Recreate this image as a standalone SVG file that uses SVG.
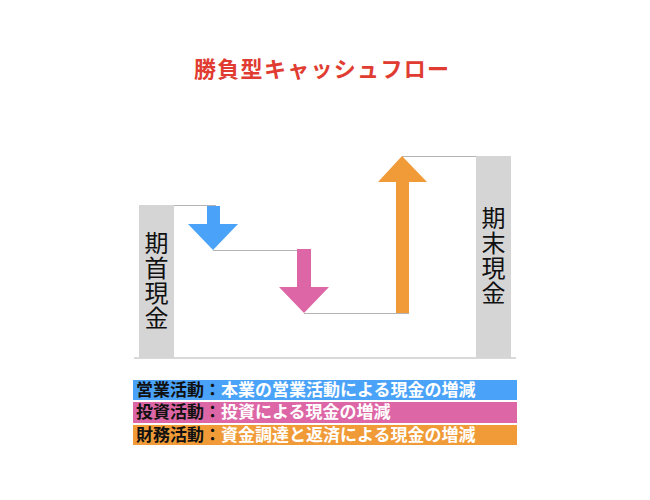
<svg xmlns="http://www.w3.org/2000/svg" width="650" height="500" viewBox="0 0 650 500">
<style>
.bar{fill:#d6d5d6}
.ln{stroke:#b3b3b3;stroke-width:1;fill:none}
.vt{font-family:"Noto Sans CJK JP","Noto Sans CJK SC",sans-serif;font-size:24px;fill:#111;writing-mode:vertical-rl;letter-spacing:1px}
.lg{font-family:"Liberation Sans","Noto Sans CJK JP","Noto Sans CJK SC",sans-serif;font-size:17px;font-weight:bold}
.k{fill:#111}
.w{fill:#fff}
</style>
<rect width="650" height="500" fill="#fff"/>
<text x="194" y="77" textLength="255" lengthAdjust="spacing" font-family="'Noto Sans CJK JP','Noto Sans CJK SC',sans-serif" font-size="22" font-weight="bold" fill="#e03c31">勝負型キャッシュフロー</text>
<g id="connectors">
<line class="ln" x1="134" y1="358" x2="516" y2="358"/>
<line class="ln" x1="139" y1="205.5" x2="216" y2="205.5"/>
<line class="ln" x1="213" y1="250.5" x2="311" y2="250.5"/>
<line class="ln" x1="304" y1="313.5" x2="409" y2="313.5"/>
<line class="ln" x1="402" y1="156.5" x2="508" y2="156.5"/>
</g>
<g id="start-cash">
<rect class="bar" x="139" y="205" width="35" height="153"/>
<text class="vt" x="156.5" y="231">期首現金</text>
</g>
<g id="end-cash">
<rect class="bar" x="476" y="156" width="35" height="202"/>
<text class="vt" x="493.5" y="206">期末現金</text>
</g>
<g id="operating-arrow">
<polygon fill="#4aa3f8" points="207,206 220,206 220,224 238,224 213,250 188,224 207,224"/>
</g>
<g id="investing-arrow">
<polygon fill="#dd67a6" points="297,249 311,249 311,287 329,287 304,313 279,287 297,287"/>
</g>
<g id="financing-arrow">
<polygon fill="#f09b37" points="396,313 409,313 409,182 427,182 402,156 378,182 396,182"/>
</g>
<g id="legend-operating">
<rect x="133" y="380" width="384" height="20" fill="#4aa3f8"/>
<text class="lg" x="136" y="396"><tspan class="k">営業活動：</tspan><tspan class="w">本業の営業活動による現金の増減</tspan></text>
</g>
<g id="legend-investing">
<rect x="133" y="402" width="384" height="21" fill="#dd67a6"/>
<text class="lg" x="136" y="418"><tspan class="k">投資活動：</tspan><tspan class="w">投資による現金の増減</tspan></text>
</g>
<g id="legend-financing">
<rect x="133" y="425" width="384" height="20" fill="#f09b37"/>
<text class="lg" x="136" y="441"><tspan class="k">財務活動：</tspan><tspan class="w">資金調達と返済による現金の増減</tspan></text>
</g>
</svg>
